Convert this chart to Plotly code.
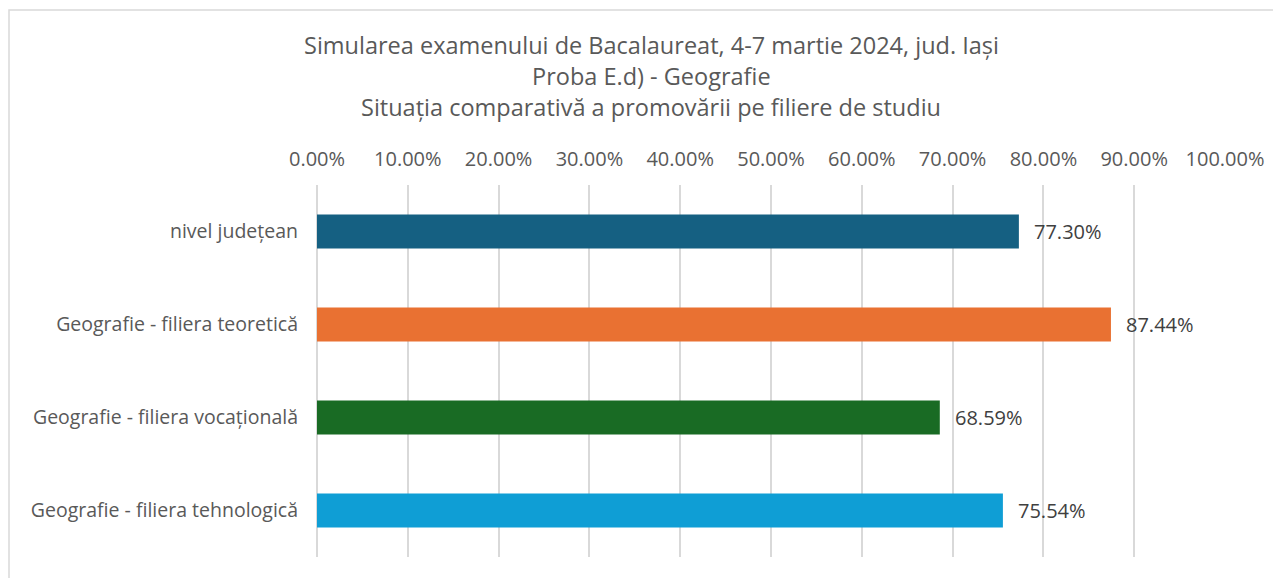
import plotly.graph_objects as go

categories = ["nivel județean", "Geografie - filiera teoretică",
              "Geografie - filiera vocațională", "Geografie - filiera tehnologică"]
values = [0.7730, 0.8744, 0.6859, 0.7554]
colors = ["#156082", "#E97132", "#196B24", "#0F9ED5"]
title_lines = ["Simularea examenului de Bacalaureat, 4-7 martie 2024, jud. Iași",
               "Proba E.d) - Geografie",
               "Situația comparativă a promovării pe filiere de studiu"]
tick_vals = [i / 10 for i in range(11)]
tick_text = [f"{v*100:.2f}%" for v in tick_vals]

FONT = "Open Sans"
W, H = 1281, 578
OFF = 8  # page body margin offset
ml, mr, mt, mb = 317 - OFF, 56 + OFF, 185 - OFF, 21 + OFF
pw = W - ml - mr
ph = H - mt - mb

fig = go.Figure()
fig.add_trace(go.Bar(
    y=categories, x=values, orientation="h",
    marker=dict(color=colors, line=dict(width=0)),
    hoverinfo="skip",
))

for c, v in zip(categories, values):
    fig.add_annotation(x=v, y=c, xref="x", yref="y", text=f"{v*100:.2f}%",
                       showarrow=False, xanchor="left", xshift=13,
                       font=dict(family=FONT, size=20, color="#404040"))

title_cx = (651 - OFF - ml) / pw
for line, ypx in zip(title_lines, [45, 76, 107]):
    fig.add_annotation(x=title_cx, xref="paper", y=(H - mb - (ypx - OFF)) / ph,
                       yref="paper", text=line, showarrow=False,
                       xanchor="center", yanchor="middle",
                       font=dict(family=FONT, size=23.5, color="#595959"))

# outer chart border (cropped on right/bottom)
fig.add_shape(type="rect", xref="paper", yref="paper",
              x0=(1 - ml) / pw, x1=(W + 20 - ml) / pw,
              y0=(H - mb - (H + 20)) / ph, y1=(H - mb - 2) / ph,
              line=dict(color="#d9d9d9", width=1.5), fillcolor="rgba(0,0,0,0)", layer="below")

fig.update_layout(
    width=W, height=H,
    margin=dict(l=ml, r=mr, t=mt, b=mb),
    paper_bgcolor="white", plot_bgcolor="white",
    bargap=0.635, showlegend=False,
    font=dict(family=FONT, color="#595959"),
    xaxis=dict(side="top", range=[0, 1], tickvals=tick_vals, ticktext=tick_text,
               showgrid=True, gridcolor="#d9d9d9", gridwidth=1.5,
               zeroline=True, zerolinecolor="#d9d9d9", zerolinewidth=1.5,
               showline=False, ticks="", ticklabelstandoff=14,
               tickfont=dict(family=FONT, size=20, color="#595959"), fixedrange=True),
    yaxis=dict(categoryorder="array", categoryarray=categories[::-1],
               showgrid=False, zeroline=False, showline=False, ticks="",
               ticklabelstandoff=18,
               tickfont=dict(family=FONT, size=19.5, color="#595959"), fixedrange=True),
)

fig.write_html("out.html")
